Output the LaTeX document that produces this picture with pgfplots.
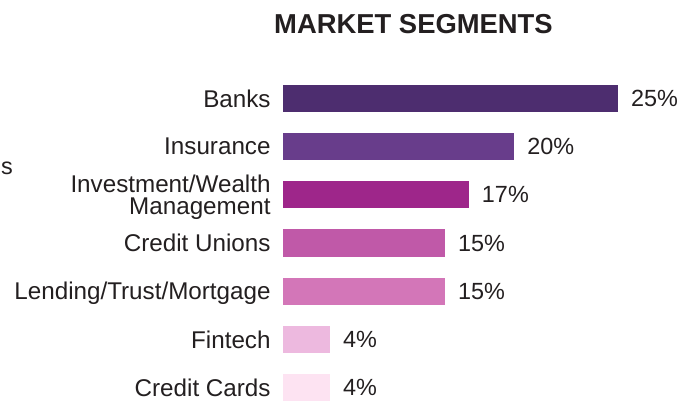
\documentclass[border=0pt]{standalone}
\usepackage{pgfplots}
\pgfplotsset{compat=1.18}
\usepackage{fontspec}
\setmainfont{Liberation Sans}
\definecolor{txt}{HTML}{231F20}
\definecolor{c1}{HTML}{4D2D6F}
\definecolor{c2}{HTML}{683D8B}
\definecolor{c3}{HTML}{9E268A}
\definecolor{c4}{HTML}{C059A8}
\definecolor{c5}{HTML}{D376B8}
\definecolor{c6}{HTML}{EDB9DF}
\definecolor{c7}{HTML}{FDE3F2}
\begin{document}
\begin{tikzpicture}
\begin{axis}[
  at={(283bp,1bp)}, anchor=south west,
  scale only axis, width=413bp, height=326.6bp,
  xmin=0, xmax=38.24, ymin=-0.5, ymax=6.28, y dir=reverse,
  axis line style={draw=none}, tick style={draw=none},
  xtick=\empty, ytick={0,1,2,3,4,5,6},
  yticklabels={Banks,Insurance,{Investment/Wealth\\Management},Credit Unions,Lending/Trust/Mortgage,Fintech,Credit Cards},
  yticklabel style={align=right, font=\fontsize{24.3}{22}\selectfont, text=txt, inner sep=0pt, xshift=-8bp, text depth=0pt},
  xbar, bar width=27bp, bar shift=0pt,
  point meta=explicit symbolic,
  nodes near coords,
  nodes near coords style={anchor=west, inner sep=0pt, xshift=13bp, font=\fontsize{23.5}{26}\selectfont, text=txt, text depth=0pt},
  clip=false,
]
\addplot[fill=c1, draw=none] coordinates {(31.0,0) [25\%]};
\addplot[fill=c2, draw=none] coordinates {(21.4,1) [20\%]};
\addplot[fill=c3, draw=none] coordinates {(17.2,2) [17\%]};
\addplot[fill=c4, draw=none] coordinates {(15.0,3) [15\%]};
\addplot[fill=c5, draw=none] coordinates {(15.0,4) [15\%]};
\addplot[fill=c6, draw=none] coordinates {(4.35,5) [4\%]};
\addplot[fill=c7, draw=none] coordinates {(4.35,6) [4\%]};
\end{axis}
\node[font=\fontsize{27.5}{30}\selectfont\bfseries, text=txt, inner sep=0pt] at (413.5bp,377.5bp) {MARKET SEGMENTS};
\node[anchor=base west, inner sep=0pt, font=\fontsize{23.5}{26}\selectfont, text=txt] at (1bp,227bp) {s};
\pgfresetboundingbox
\path[use as bounding box] (0,0) rectangle (696bp,402bp);
\end{tikzpicture}
\end{document}
